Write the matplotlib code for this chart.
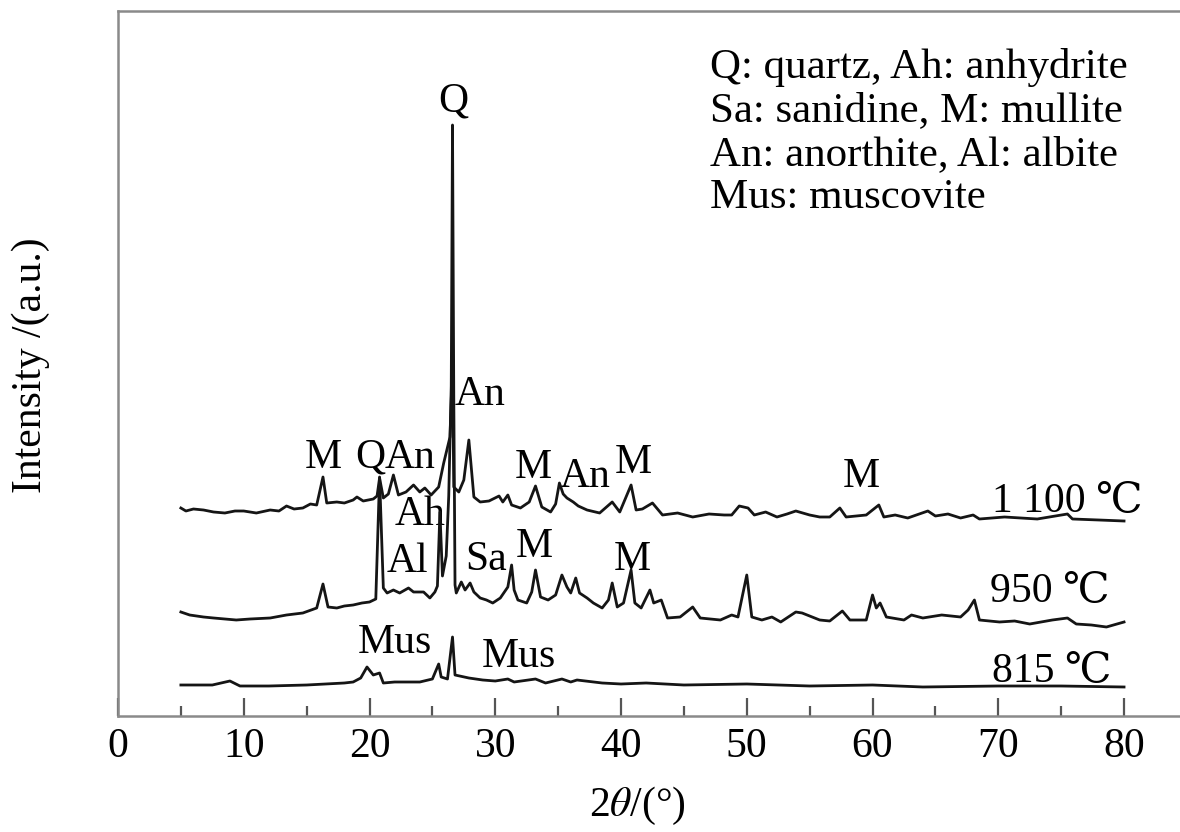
import matplotlib
matplotlib.use("Agg")
import matplotlib.pyplot as plt

plt.rcParams['font.family'] = ['Liberation Serif', 'DejaVu Serif', 'Noto Sans CJK SC']
plt.rcParams['mathtext.fontset'] = 'stix'

# XRD patterns: 2theta (deg) and intensity (a.u., stacked)
tt_1100 = [5.0, 5.4, 6.0, 6.8, 7.6, 8.5, 9.3, 10.0, 11.0, 12.1, 12.8, 13.4, 14.0, 14.7, 15.3,
           15.8, 16.3, 16.6, 17.4, 18.0, 18.7, 19.0, 19.5, 20.3, 20.6, 20.8, 21.1, 21.5, 21.9,
           22.3, 22.9, 23.5, 24.0, 24.4, 24.9, 25.5, 25.9, 26.4, 26.6, 26.7, 27.1, 27.5, 27.9,
           28.3, 28.8, 29.5, 30.3, 30.6, 31.0, 31.3, 32.0, 32.7, 33.2, 33.7, 34.4, 34.8, 35.1,
           35.4, 35.7, 36.2, 36.6, 37.3, 38.3, 39.3, 39.9, 40.8, 41.2, 41.7, 42.5, 43.3, 44.5,
           45.7, 47.0, 48.2, 48.8, 49.4, 50.1, 50.6, 51.5, 52.4, 53.2, 53.9, 55.0, 55.8, 56.6,
           57.4, 57.9, 59.5, 60.5, 60.9, 61.8, 62.8, 64.4, 65.0, 66.0, 67.0, 68.0, 68.5, 70.5,
           73.1, 75.5, 75.9, 78.0, 80.0]
int_1100 = [208, 205, 207, 206, 204, 203, 205, 205, 203, 206, 205, 210, 207, 208, 212,
            211, 239, 213, 214, 213, 216, 219, 215, 217, 220, 238, 218, 222, 241,
            221, 224, 231, 224, 228, 221, 229, 253, 279, 353, 229, 224, 236, 276,
            219, 214, 215, 220, 214, 221, 211, 208, 214, 230, 209, 204, 212, 233,
            222, 218, 214, 210, 206, 203, 214, 204, 231, 206, 207, 213, 201, 203,
            199, 202, 201, 201, 210, 208, 201, 204, 199, 202, 205, 201, 199, 199,
            208, 199, 201, 211, 199, 201, 198, 205, 200, 202, 198, 201, 197, 199,
            197, 202, 197, 196, 195]

tt_950 = [5.0, 5.7, 6.8, 7.6, 8.5, 9.4, 10.5, 12.1, 13.4, 14.7, 15.8, 16.3, 16.7, 17.4, 18.0,
          18.7, 19.4, 20.0, 20.5, 20.8, 21.1, 21.4, 21.9, 22.4, 23.1, 23.5, 24.3, 24.8, 25.2,
          25.4, 25.6, 25.8, 26.1, 26.3, 26.5, 26.6, 26.7, 26.8, 26.9, 27.3, 27.6, 28.0, 28.3,
          28.8, 29.3, 29.8, 30.4, 31.0, 31.3, 31.5, 31.8, 32.5, 32.9, 33.2, 33.6, 34.2, 34.8,
          35.3, 35.7, 36.0, 36.4, 36.7, 37.3, 37.8, 38.5, 39.0, 39.3, 39.7, 40.2, 40.8, 41.1,
          41.6, 42.3, 42.6, 43.2, 43.7, 44.7, 45.7, 46.3, 47.1, 47.9, 48.8, 49.3, 50.0, 50.4,
          51.2, 52.0, 52.7, 53.9, 54.4, 55.8, 56.6, 57.6, 58.2, 59.5, 60.0, 60.3, 60.6, 61.1,
          62.5, 63.1, 64.0, 65.5, 67.0, 67.6, 68.1, 68.5, 70.1, 71.3, 72.5, 74.3, 75.5, 76.2,
          77.4, 78.6, 80.0]
int_950 = [104, 101, 99, 98, 97, 96, 97, 98, 101, 103, 108, 132, 109, 108, 110,
           111, 113, 114, 117, 239, 128, 123, 126, 123, 128, 124, 124, 118, 124,
           130, 204, 140, 160, 220, 330, 591, 320, 131, 123, 134, 126, 133, 124,
           118, 116, 113, 118, 129, 151, 126, 116, 113, 124, 146, 119, 116, 121,
           141, 129, 123, 138, 123, 118, 113, 108, 116, 133, 109, 113, 146, 113,
           108, 126, 113, 116, 98, 99, 109, 98, 97, 96, 101, 99, 141, 99,
           96, 99, 94, 104, 103, 96, 95, 105, 96, 96, 121, 108, 113, 99,
           96, 101, 98, 101, 99, 106, 116, 96, 94, 95, 92, 96, 98, 92,
           91, 89, 94]

tt_815 = [5.0, 7.5, 8.9, 9.7, 12.0, 15.0, 18.0, 18.7, 19.3, 19.8, 20.3, 20.8, 21.1, 22.0,
          24.0, 25.0, 25.5, 25.7, 26.2, 26.6, 26.8, 27.9, 29.0, 30.0, 31.0, 31.5, 33.2, 34.0,
          35.3, 36.0, 36.5, 38.5, 40.0, 42.0, 45.0, 50.0, 55.0, 60.0, 64.0, 70.0, 75.0, 80.0]
int_815 = [31, 31, 35, 30, 30, 31, 33, 34, 38, 49, 41, 43, 33, 34,
           34, 37, 52, 39, 37, 79, 41, 38, 36, 35, 37, 34, 37, 33,
           37, 34, 36, 33, 32, 33, 31, 32, 30, 31, 29, 30, 30, 29]

# phase labels: text, 2theta, height (baseline), alignment
peak_labels = [
    ('M', 16.3, 248, 'center'), ('Q', 18.85, 248, 'left'), ('An', 21.23, 248, 'left'),
    ('Q', 26.64, 604, 'center'), ('An', 26.8, 311, 'left'), ('M', 33.04, 238, 'center'),
    ('An', 35.15, 229, 'left'), ('M', 41.0, 243, 'center'), ('M', 59.09, 229, 'center'),
    ('Ah', 22.03, 191, 'left'), ('Al', 21.39, 144, 'left'), ('Sa', 27.6, 146, 'left'),
    ('M', 33.12, 159, 'center'), ('M', 40.9, 146, 'center'),
    ('Mus', 19.09, 63, 'left'), ('Mus', 28.95, 49, 'left'),
]
temp_labels = [('1 100 ℃', 69.5, 204), ('950 ℃', 69.34, 114), ('815 ℃', 69.5, 34)]
legend_lines = ['Q: quartz, Ah: anhydrite', 'Sa: sanidine, M: mullite',
                'An: anorthite, Al: albite', 'Mus: muscovite']

fig = plt.figure(figsize=(11.8, 8.32), dpi=100)
ax = fig.add_axes([118 / 1180, 116 / 832, 1062 / 1180, 705 / 832])

for tt, inten in [(tt_1100, int_1100), (tt_950, int_950), (tt_815, int_815)]:
    ax.plot(tt, inten, color='#151515', lw=2.0, zorder=3)

fs = 30
for txt, x, y, ha in peak_labels:
    ax.text(x, y, txt, ha=ha, va='baseline', fontsize=fs, zorder=2)
for txt, x, y in temp_labels:
    ax.text(x, y, txt, ha='left', va='baseline', fontsize=fs)

for i, line in enumerate(legend_lines):
    ax.text(47.1, 638 - 43.5 * i, line, ha='left', va='baseline', fontsize=31)

ax.set_xlim(0, 84.45)
ax.set_ylim(0, 705)
ax.set_xticks(range(0, 81, 10))
ax.set_xticks(range(5, 80, 10), minor=True)
ax.set_yticks([])
ax.tick_params(axis='x', which='major', direction='in', length=13, width=1.6,
               color='#555555', labelsize=fs, pad=8)
ax.tick_params(axis='x', which='minor', direction='in', length=7, width=1.6,
               color='#555555')

ax.spines['right'].set_visible(False)
for side in ['left', 'top', 'bottom']:
    ax.spines[side].set_color('#8a8a8a')
    ax.spines[side].set_linewidth(1.8)

ax.set_xlabel(r'2$\it{\theta}$/(°)', fontsize=fs)
ax.xaxis.set_label_coords(0.489, -0.098)
ax.set_ylabel('Intensity /(a.u.)', fontsize=fs)
ax.yaxis.set_label_coords(-0.064, 0.497)

fig.savefig('out.png', dpi=100)
